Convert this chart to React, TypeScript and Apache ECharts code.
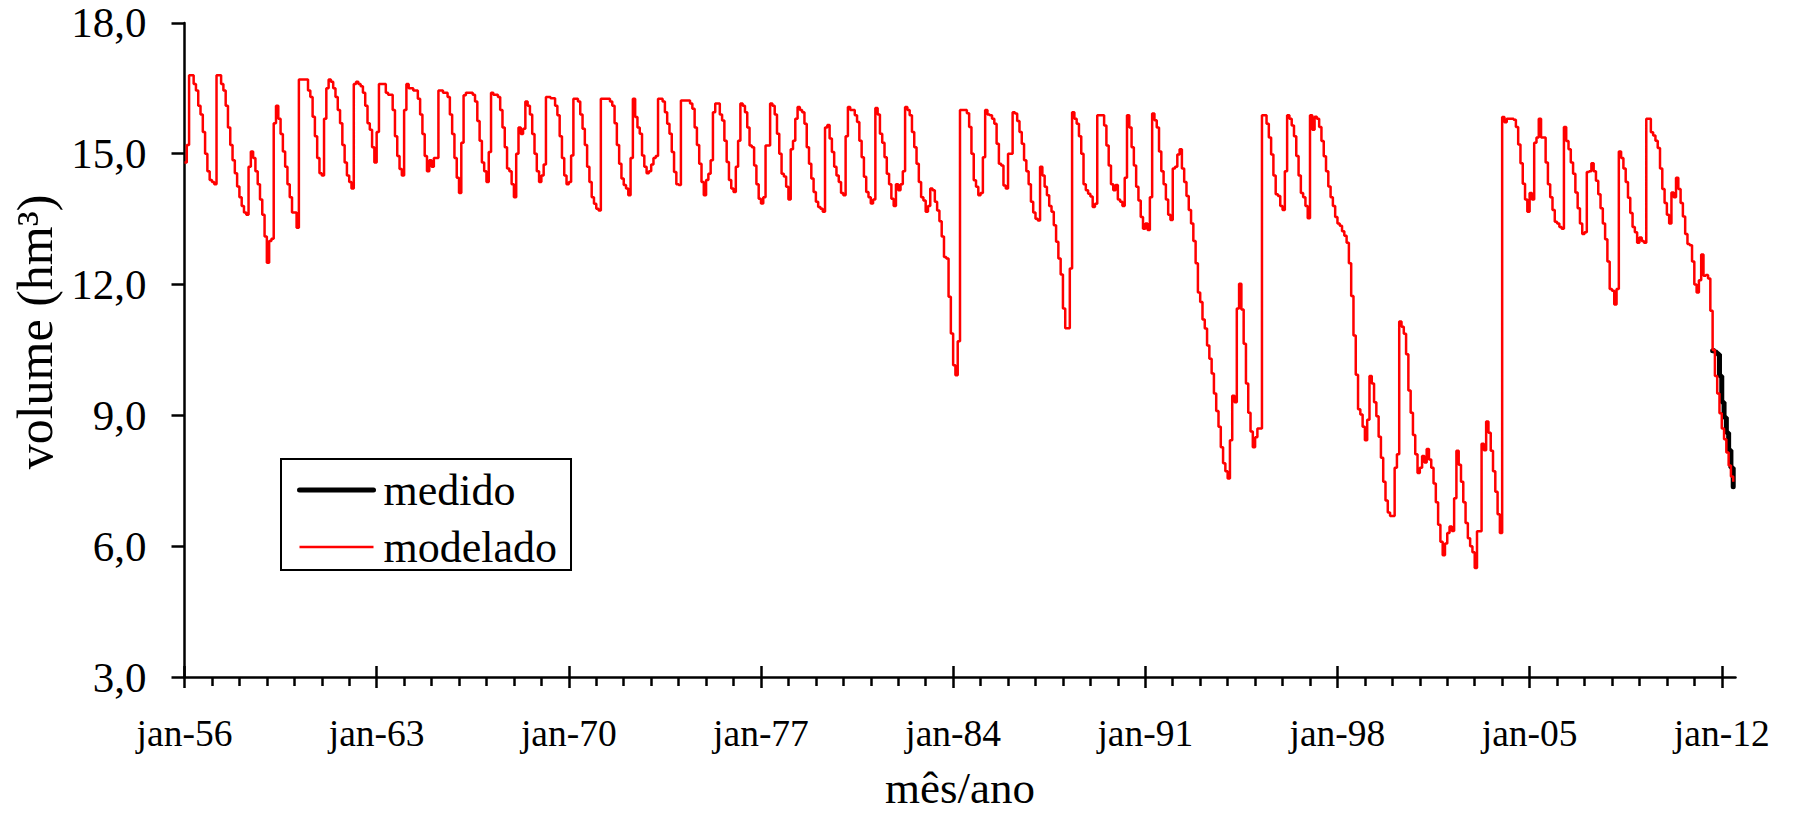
import React, { useEffect, useRef } from "react";
import * as echarts from "echarts";

// Monthly reservoir volume (hm³), January to December of each year.
const modelado1950s = [
  14.8, 15.2, 16.8, 16.8, 16.6, 16.45, 16.1, 15.9, 15.5, 15.0, 14.6, 14.4,
  14.35, 14.3, 16.8, 16.8, 16.6, 16.45, 16.1, 15.6, 15.2, 14.85, 14.55, 14.25,
  14.0, 13.8, 13.65, 13.6, 14.7, 15.05, 14.9, 14.6, 14.3, 13.95, 13.6, 13.1,
  12.5, 13.0, 13.05, 15.7, 16.1, 15.8, 15.45, 15.05, 14.7, 14.3, 14.0, 13.65,
];
const modelado1960s = [
  13.65, 13.3, 16.7, 16.7, 16.7, 16.7, 16.45, 16.3, 15.85, 15.4, 14.9, 14.55,
  14.5, 15.8, 16.5, 16.7, 16.65, 16.5, 16.3, 16.0, 15.7, 15.2, 14.8, 14.5,
  14.35, 14.2, 16.6, 16.65, 16.6, 16.55, 16.4, 16.1, 15.7, 15.55, 15.15, 14.8,
  15.5, 16.6, 16.6, 16.6, 16.4, 16.35, 16.35, 16.0, 15.4, 14.95, 14.65, 14.5,
  16.0, 16.6, 16.5, 16.5, 16.45, 16.45, 16.26, 15.9, 15.45, 14.95, 14.6, 14.85,
  14.7, 14.9, 14.9, 16.45, 16.45, 16.4, 16.4, 16.3, 15.9, 15.45, 14.9, 14.45,
  14.1, 15.25, 16.34, 16.4, 16.4, 16.4, 16.35, 16.2, 15.75, 15.3, 14.8, 14.6,
  14.35, 15.04, 16.4, 16.35, 16.35, 16.3, 16.0, 15.6, 15.15, 14.66, 14.6, 14.3,
  14.0, 15.0, 15.6, 15.45, 15.57, 16.2, 16.1, 15.9, 15.45, 15.0, 14.6, 14.35,
  14.5, 14.75, 16.3, 16.3, 16.27, 16.27, 16.1, 15.88, 15.4, 14.9, 14.5, 14.3,
];
const modelado1970s = [
  14.35, 14.96, 16.26, 16.26, 16.2, 15.9, 15.57, 15.2, 14.7, 14.35, 14.0, 13.85,
  13.74, 13.7, 16.26, 16.26, 16.26, 16.26, 16.2, 16.1, 15.7, 15.2, 14.77, 14.43,
  14.28, 14.2, 14.05, 14.9, 16.26, 15.84, 15.6, 15.46, 14.96, 14.7, 14.55, 14.6,
  14.75, 14.9, 14.95, 16.26, 16.26, 16.2, 15.95, 15.69, 15.46, 15.04, 14.58, 14.3,
  14.28, 16.22, 16.22, 16.22, 16.22, 16.15, 16.03, 15.6, 15.2, 14.77, 14.35, 14.05,
  14.4, 14.54, 14.85, 15.95, 16.15, 16.15, 15.9, 15.76, 15.3, 14.81, 14.4, 14.2,
  14.12, 14.7, 15.3, 16.15, 16.1, 15.95, 15.6, 15.19, 15.15, 14.73, 14.3, 13.97,
  13.86, 14.0, 15.19, 15.19, 16.15, 16.1, 15.9, 15.46, 15.0, 14.54, 14.48, 14.24,
  13.95, 15.1, 15.3, 15.8, 16.07, 16.0, 15.95, 15.69, 15.15, 14.77, 14.43, 14.12,
  13.9, 13.78, 13.74, 13.67, 15.6, 15.66, 15.35, 15.04, 14.7, 14.5, 14.35, 14.1,
];
const modelado1980s = [
  14.05, 15.4, 16.07, 16.0, 16.0, 15.88, 15.73, 15.3, 14.92, 14.47, 14.12, 14.0,
  13.86, 13.95, 16.05, 15.9, 15.46, 15.25, 14.92, 14.54, 14.3, 13.97, 13.8, 14.3,
  14.16, 14.3, 14.6, 16.07, 16.0, 15.88, 15.5, 15.15, 14.77, 14.35, 14.0, 13.93,
  13.67, 13.8, 14.2, 14.16, 13.9, 13.7, 13.45, 13.1, 12.63, 12.6, 11.72, 10.88,
  10.15, 9.92, 10.7, 16.0, 16.0, 16.0, 15.93, 15.61, 15.0, 14.39, 14.24, 14.05,
  14.1, 14.92, 16.0, 15.9, 15.88, 15.8, 15.69, 15.23, 14.77, 14.73, 14.27, 14.2,
  15.0, 15.0, 15.95, 15.92, 15.75, 15.5, 15.23, 14.85, 14.6, 14.3, 13.9, 13.65,
  13.51, 13.47, 14.7, 14.5, 14.24, 14.05, 13.8, 13.67, 13.36, 12.98, 12.6, 12.23,
  11.45, 11.0, 11.0, 12.37, 15.95, 15.8, 15.69, 15.4, 15.0, 14.3, 14.16, 14.08,
  14.02, 13.78, 13.85, 15.88, 15.88, 15.88, 15.65, 15.19, 14.73, 14.3, 14.16, 14.28,
];
const modelado1990s = [
  13.95, 13.9, 13.8, 14.45, 15.88, 15.6, 15.15, 14.73, 14.24, 13.93, 13.55, 13.28,
  13.4, 13.25, 14.0, 15.92, 15.77, 15.6, 15.05, 14.6, 14.3, 13.95, 13.6, 13.48,
  14.66, 14.7, 14.98, 15.1, 14.66, 14.35, 14.03, 13.71, 13.4, 13.0, 12.49, 11.82,
  11.6, 11.2, 10.99, 10.6, 10.3, 9.96, 9.5, 9.1, 8.74, 8.27, 7.9, 7.72,
  7.55, 8.43, 9.45, 9.3, 11.45, 12.02, 11.43, 10.64, 9.73, 9.06, 8.63, 8.27,
  8.5, 8.7, 8.7, 15.88, 15.88, 15.69, 15.37, 14.98, 14.5, 14.07, 14.03, 13.8,
  13.71, 14.6, 15.88, 15.8, 15.65, 15.4, 14.95, 14.5, 14.1, 14.0, 13.8, 13.52,
  15.88, 15.55, 15.85, 15.8, 15.61, 15.29, 14.94, 14.6, 14.25, 14.0, 13.8, 13.55,
  13.4, 13.35, 13.22, 13.12, 12.96, 12.49, 11.74, 10.83, 9.93, 9.14, 9.02, 8.74,
  8.43, 8.9, 9.9, 9.73, 9.3, 8.98, 8.51, 8.03, 7.48, 7.05, 6.77, 6.69,
];
const modelado2000s = [
  6.69, 7.8, 8.11, 11.15, 11.03, 10.87, 10.4, 9.57, 9.06, 8.55, 8.11, 7.68,
  7.8, 8.07, 7.92, 8.23, 7.99, 7.8, 7.44, 7.01, 6.49, 6.1, 5.79, 6.06,
  6.3, 6.45, 6.35, 7.1, 8.19, 7.87, 7.48, 7.01, 6.53, 6.18, 6.0, 5.86,
  5.5, 6.34, 6.34, 8.35, 8.2, 8.86, 8.6, 8.19, 7.72, 7.25, 6.73, 6.3,
  15.84, 15.72, 15.8, 15.8, 15.8, 15.78, 15.61, 15.21, 14.78, 14.31, 13.95, 13.67,
  14.1, 13.95, 15.25, 15.37, 15.8, 15.37, 15.37, 14.8, 14.3, 14.0, 13.71, 13.44,
  13.4, 13.32, 13.28, 15.61, 15.29, 15.1, 14.8, 14.54, 14.11, 13.75, 13.4, 13.16,
  13.2, 14.58, 14.6, 14.78, 14.6, 14.38, 14.07, 13.75, 13.4, 13.04, 12.53, 11.9,
  11.86, 11.54, 11.9, 15.05, 14.9, 14.66, 14.35, 13.99, 13.64, 13.32, 13.2, 12.96,
  13.08, 13.0, 12.96, 15.8, 15.8, 15.49, 15.42, 15.3, 15.13, 14.66, 14.19, 13.87,
];
const modelado2010s = [
  13.6, 13.4, 14.11, 14.0, 14.45, 14.19, 13.87, 13.56, 13.16, 12.93, 12.9, 12.53,
  12.0, 11.82, 12.1, 12.69, 12.2, 12.22, 12.14, 11.4, 10.5, 9.9, 9.5, 9.05,
  8.7, 8.45, 8.15, 7.85, 7.6, 7.48,
];

// Measured volumes, September 2011 to June 2012.
const medido = [10.48, 10.45, 10.4, 9.9, 9.3, 8.95, 8.6, 8.2, 7.8, 7.36];
const medidoStartYear = 2011;
const medidoStartMonth = 8; // 0 = January

const firstYear = 1956;
const monthNames = ["jan", "fev", "mar", "abr", "mai", "jun", "jul", "ago", "set", "out", "nov", "dez"];
const labelYears = [1956, 1963, 1970, 1977, 1984, 1991, 1998, 2005, 2012];

const modelado = [
  ...modelado1950s,
  ...modelado1960s,
  ...modelado1970s,
  ...modelado1980s,
  ...modelado1990s,
  ...modelado2000s,
  ...modelado2010s,
];

const monthIndex = (year: number, month: number) => (year - firstYear) * 12 + month;
const majorTicks = labelYears.map((y) => monthIndex(y, 0));
const yearTicks: number[] = [];
for (let y = firstYear; y <= 2012; y++) {
  if (!labelYears.includes(y)) yearTicks.push(monthIndex(y, 0));
}

const modeladoData = modelado.map((v, i) => [i, v]);
const medidoData = medido.map((v, i) => [monthIndex(medidoStartYear, medidoStartMonth) + i, v]);

const FONT = "Liberation Serif";
const axisColor = "#000";
const xMax = modelado.length;

const fmtMonth = (m: number) => {
  const year = firstYear + Math.floor(m / 12);
  return monthNames[m % 12] + "-" + String(year % 100).padStart(2, "0");
};

// Extra tick-only axes: the upper half of the crossing major ticks, and the yearly minor ticks.
const hiddenX = (ticks: number[], inside: boolean, length: number) => ({
  type: "value",
  min: 0,
  max: xMax,
  position: "bottom",
  axisLine: { show: false, onZero: false },
  axisTick: {
    show: true,
    customValues: ticks,
    inside,
    length,
    lineStyle: { color: axisColor, width: 2.5 },
  },
  axisLabel: { show: false },
  splitLine: { show: false },
});

const option = {
  animation: false,
  backgroundColor: "#ffffff",
  textStyle: { fontFamily: FONT, color: "#000" },
  grid: { left: 184.5, right: 62.5, top: 22.9, bottom: 137.3, containLabel: false },
  xAxis: [
    {
      type: "value",
      min: 0,
      max: xMax,
      position: "bottom",
      name: "mês/ano",
      nameLocation: "middle",
      nameGap: 88,
      nameTextStyle: { fontSize: 45, fontFamily: FONT, color: "#000" },
      axisLine: { show: true, onZero: false, lineStyle: { color: axisColor, width: 2.5 } },
      axisTick: {
        show: true,
        customValues: majorTicks,
        length: 11,
        lineStyle: { color: axisColor, width: 2.5 },
      },
      axisLabel: {
        customValues: majorTicks,
        formatter: (v: number) => fmtMonth(Math.round(v)),
        fontSize: 37.5,
        fontFamily: FONT,
        color: "#000",
        margin: 37,
      },
      splitLine: { show: false },
    },
    hiddenX(majorTicks, true, 11),
    hiddenX(yearTicks, false, 9),
  ],
  yAxis: {
    type: "value",
    min: 3,
    max: 18,
    interval: 3,
    name: "volume (hm³)",
    nameLocation: "middle",
    nameGap: 107,
    nameTextStyle: { fontSize: 50, fontFamily: FONT, color: "#000", padding: [0, 0, 0, 36] },
    axisLine: { show: true, onZero: false, lineStyle: { color: axisColor, width: 2.5 } },
    axisTick: { show: true, length: 13, lineStyle: { color: axisColor, width: 2.5 } },
    axisLabel: {
      formatter: (v: number) => v.toFixed(1).replace(".", ","),
      fontSize: 43,
      fontFamily: FONT,
      color: "#000",
      margin: 38,
    },
    splitLine: { show: false },
  },
  legend: {
    orient: "vertical",
    left: 281,
    top: 459,
    padding: [9, 14, 1, 16],
    itemGap: 13,
    itemWidth: 74,
    itemHeight: 14,
    borderColor: "#000",
    borderWidth: 2,
    backgroundColor: "#fff",
    itemStyle: { opacity: 0 },
    lineStyle: { width: "inherit" },
    textStyle: { fontSize: 44, lineHeight: 44, fontFamily: FONT, color: "#000", padding: [0, 0, 0, 5] },
    data: ["medido", "modelado"],
  },
  series: [
    {
      name: "medido",
      type: "line",
      data: medidoData,
      step: "end",
      symbol: "none",
      lineStyle: { color: "#000", width: 5, cap: "round" },
      itemStyle: { color: "#000" },
    },
    {
      name: "modelado",
      type: "line",
      data: modeladoData,
      step: "end",
      symbol: "none",
      lineStyle: { color: "#ff0000", width: 2.5 },
      itemStyle: { color: "#ff0000" },
    },
  ],
};

export default function App() {
  const ref = useRef<HTMLDivElement>(null);
  useEffect(() => {
    document.body.style.margin = "0";
    const chart = echarts.init(ref.current as HTMLDivElement, null, { renderer: "svg" });
    chart.setOption(option as any);
    return () => chart.dispose();
  }, []);
  return <div ref={ref} style={{ width: 1798, height: 815, background: "#fff" }} />;
}
